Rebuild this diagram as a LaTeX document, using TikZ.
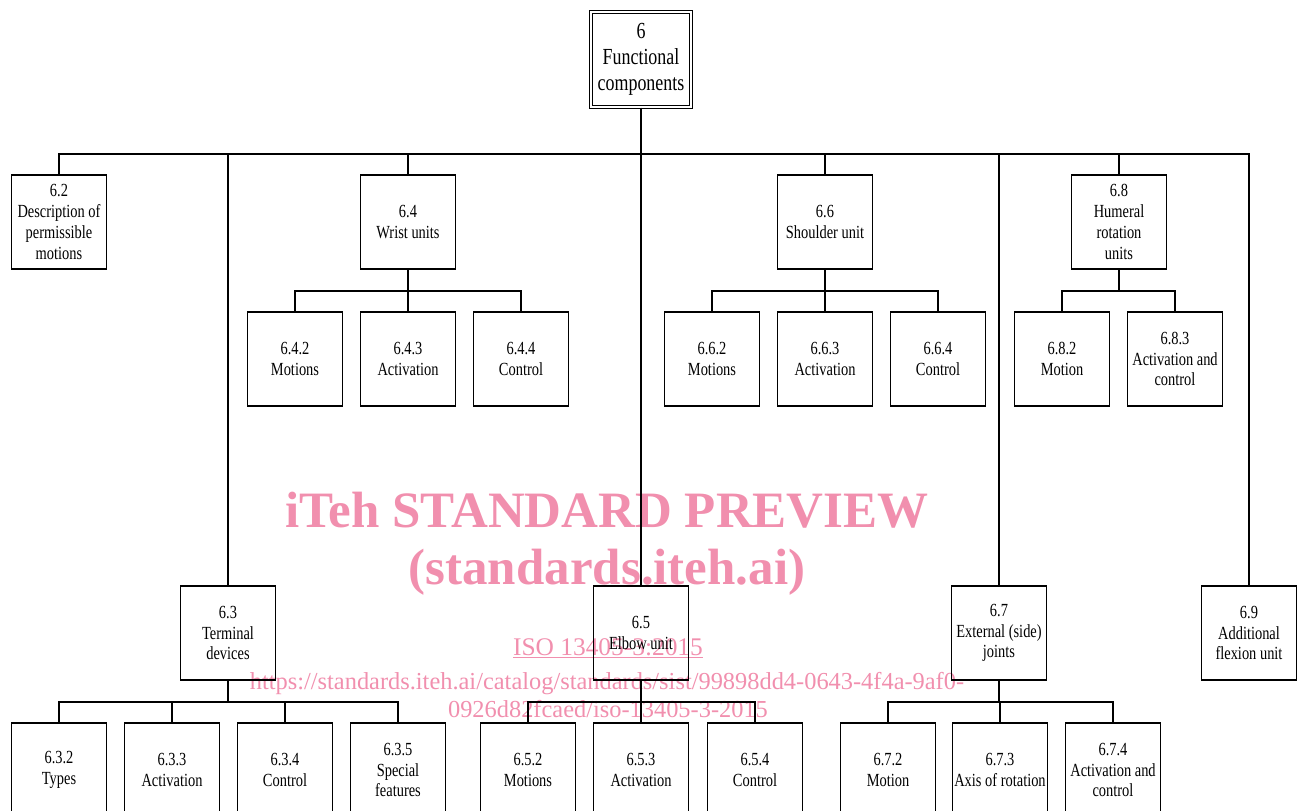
\documentclass[tikz,border=0pt]{standalone}
\usepackage{fontspec}
\setmainfont{Liberation Serif}
\newfontfamily\boxfont{Liberation Serif}[FakeStretch=0.78]
\definecolor{wm}{RGB}{241,143,174}
\begin{document}
\begin{tikzpicture}[x=1pt,y=-1pt,
  conn/.style={draw, line width=2pt},
  box/.style={draw, line width=1.9pt, minimum width=95pt, minimum height=94pt, inner sep=0pt,
    align=center, font=\boxfont\fontsize{18.5}{20.8}\selectfont},
  topbox/.style={draw, double, double distance=2.5pt, line width=1.1pt, minimum width=100pt,
    minimum height=95pt, inner sep=0pt, align=center, font=\boxfont\fontsize{23}{26}\selectfont},
  wmark/.style={text=wm, inner sep=0pt, anchor=base}]
\useasboundingbox (0,0) rectangle (1301,811);
\clip (0,0) rectangle (1301,811);
% watermark (behind)
\node[wmark, font=\bfseries\fontsize{51}{51}\selectfont] (w1) at (607,527) {iTeh STANDARD PREVIEW};
\node[wmark, font=\bfseries\fontsize{51}{51}\selectfont] (w2) at (607,584) {(standards.iteh.ai)};
\node[wmark, font=\fontsize{25.4}{25.4}\selectfont] (w3) at (608,655) {\underline{ISO 13405-3:2015}};
\node[wmark, font=\fontsize{24.4}{24.4}\selectfont] (w4) at (607,689) {https://standards.iteh.ai/catalog/standards/sist/99898dd4-0643-4f4a-9af0-};
\node[wmark, font=\fontsize{24.4}{24.4}\selectfont] (w5) at (608,717) {0926d82fcaed/iso-13405-3-2015};
% top
\node[topbox] (top) at (641,59.5) {6\\Functional\\components};
% level 1
\node[box] (n62) at (59,222) {6.2\\Description of\\permissible\\motions};
\node[box] (n63) at (228,633) {6.3\\Terminal\\devices};
\node[box] (n64) at (408,222) {6.4\\Wrist units};
\node[box] (n65) at (641,633) {6.5\\Elbow unit};
\node[box] (n66) at (825,222) {6.6\\Shoulder unit};
\node[box] (n67) at (999,633) {6.7\\External (side)\\joints};
\node[box] (n68) at (1119,222) {6.8\\Humeral\\rotation\\units};
\node[box] (n69) at (1249,633) {6.9\\Additional\\flexion unit};
% level 2 (upper)
\node[box] (n642) at (295,359) {6.4.2\\Motions};
\node[box] (n643) at (408,359) {6.4.3\\Activation};
\node[box] (n644) at (521,359) {6.4.4\\Control};
\node[box] (n662) at (712,359) {6.6.2\\Motions};
\node[box] (n663) at (825,359) {6.6.3\\Activation};
\node[box] (n664) at (938,359) {6.6.4\\Control};
\node[box] (n682) at (1062,359) {6.8.2\\Motion};
\node[box] (n683) at (1175,359) {6.8.3\\Activation and\\control};
% level 2 (lower)
\node[box] (n632) at (59,770) {6.3.2\\Types};
\node[box] (n633) at (172,770) {6.3.3\\Activation};
\node[box] (n634) at (285,770) {6.3.4\\Control};
\node[box] (n635) at (398,770) {6.3.5\\Special\\features};
\node[box] (n652) at (528,770) {6.5.2\\Motions};
\node[box] (n653) at (641,770) {6.5.3\\Activation};
\node[box] (n654) at (755,770) {6.5.4\\Control};
\node[box] (n672) at (888,770) {6.7.2\\Motion};
\node[box] (n673) at (1000,770) {6.7.3\\Axis of rotation};
\node[box] (n674) at (1113,770) {6.7.4\\Activation and\\control};
% bus coordinates
\coordinate (b0) at (0,154);
\coordinate (b1) at (0,291);
\coordinate (b2) at (0,702);
% main bus
\draw[conn] (top.south) -- (top.south |- n65.north);
\draw[conn] (n62.north) -- (n62.north |- b0) -- (n69.north |- b0) -- (n69.north);
\foreach \n in {n63,n64,n66,n67,n68} \draw[conn] (\n.north) -- (\n.north |- b0);
% 6.4
\draw[conn] (n64.south) -- (n64.south |- b1);
\draw[conn] (n642.north) -- (n642.north |- b1) -- (n644.north |- b1) -- (n644.north);
\draw[conn] (n643.north) -- (n643.north |- b1);
% 6.6
\draw[conn] (n66.south) -- (n66.south |- b1);
\draw[conn] (n662.north) -- (n662.north |- b1) -- (n664.north |- b1) -- (n664.north);
\draw[conn] (n663.north) -- (n663.north |- b1);
% 6.8
\draw[conn] (n68.south) -- (n68.south |- b1);
\draw[conn] (n682.north) -- (n682.north |- b1) -- (n683.north |- b1) -- (n683.north);
% 6.3
\draw[conn] (n63.south) -- (n63.south |- b2);
\draw[conn] (n632.north) -- (n632.north |- b2) -- (n635.north |- b2) -- (n635.north);
\draw[conn] (n633.north) -- (n633.north |- b2);
\draw[conn] (n634.north) -- (n634.north |- b2);
% 6.5
\draw[conn] (n65.south) -- (n65.south |- b2);
\draw[conn] (n652.north) -- (n652.north |- b2) -- (n654.north |- b2) -- (n654.north);
\draw[conn] (n653.north) -- (n653.north |- b2);
% 6.7
\draw[conn] (n67.south) -- (n67.south |- b2);
\draw[conn] (n672.north) -- (n672.north |- b2) -- (n674.north |- b2) -- (n674.north);
\draw[conn] (n673.north) -- (n673.north |- b2);
\end{tikzpicture}
\end{document}
